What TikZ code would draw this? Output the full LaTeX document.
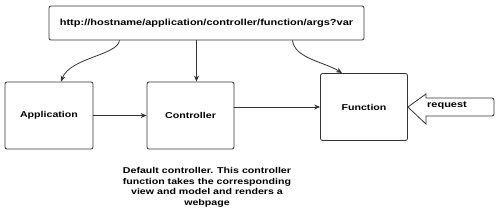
\documentclass[tikz,border=0pt]{standalone}
\usepackage{fontspec}
\usepackage{graphicx}
\setmainfont{Liberation Sans}
\usetikzlibrary{arrows.meta}
\newcommand\widetext[1]{\scalebox{1.25}[1]{#1}}
\tikzset{
  box/.style={draw=black!80,line width=0.8pt,rounded corners=2pt,fill=white},
  arr/.style={draw=black!80,line width=0.8pt,-{Stealth[length=6pt,width=5pt]}}
}
\begin{document}
\begin{tikzpicture}[x=1pt,y=-1pt,font=\fontsize{8.5}{10.5}\selectfont\bfseries]
\useasboundingbox (0,0) rectangle (500,210);
\node[box,minimum width=315pt,minimum height=34pt] (url) at (206.5,23) {\widetext{\fontsize{8.8}{10.5}\selectfont http://hostname/application/controller/function/args?var}};
\node[box,minimum width=88pt,minimum height=67pt] (app) at (49,115.5) {\widetext{Application}};
\node[box,minimum width=87pt,minimum height=67pt] (ctrl) at (190.5,115.5) {\widetext{Controller}};
\node[box,minimum width=87pt,minimum height=67pt] (fun) at (364,107) {\widetext{Function}};
% request arrow
\draw[black!80,line width=0.8pt,fill=white] (fun.east) -- ++(18,-13) -- ++(0,4) [rounded corners=2pt] -- ++(68,0) -- ++(0,18) [sharp corners] -- ++(-68,0) -- ++(0,8) -- cycle;
\node[font=\fontsize{8.8}{10.5}\selectfont\bfseries] (req) at (447,106) {\widetext{request}};
\draw[arr] ([xshift=-87pt]url.south) .. controls +(-2,15) and +(9,-24) .. ([xshift=12pt]app.north);
\draw[arr] ([xshift=-10pt]url.south) -- ([xshift=6pt]ctrl.north);
\draw[arr] ([xshift=86pt]url.south) .. controls +(2,18) and +(-17,-11) .. ([xshift=-22pt]fun.north);
\draw[arr] (app) -- (ctrl);
\draw[arr] (ctrl.east |- fun) -- (fun.west);
\node[inner sep=0pt] (note) at (207,187.5) {\widetext{\begin{tabular}{@{}c@{}}Default controller. This controller\\function takes the corresponding\\view and model and renders a\\webpage\end{tabular}}};
\end{tikzpicture}
\end{document}
